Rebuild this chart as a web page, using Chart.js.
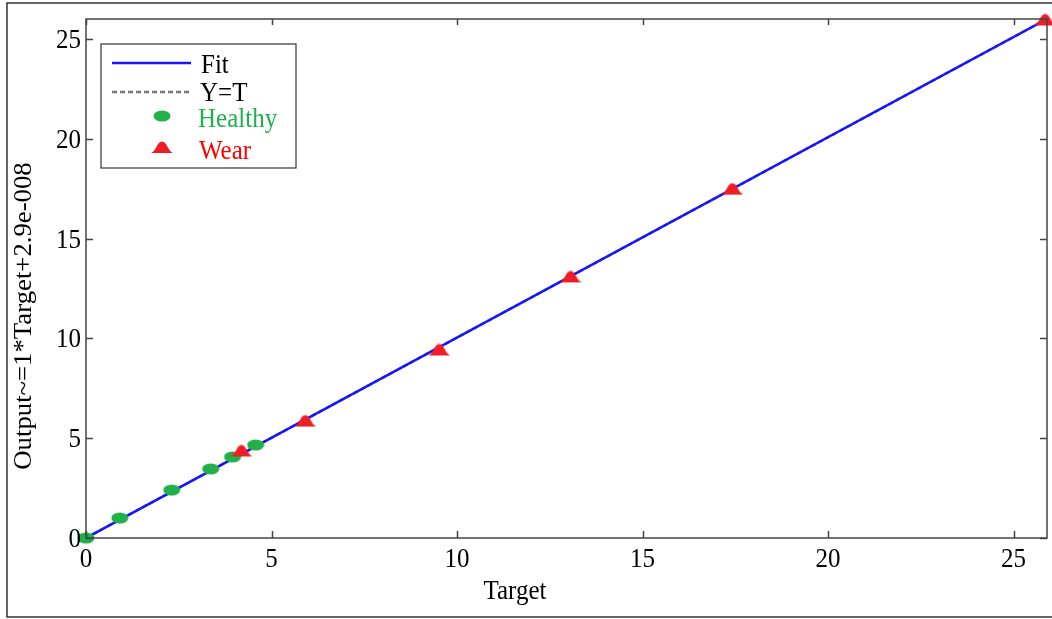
<!DOCTYPE html>
<html>
<head>
<meta charset="utf-8">
<script src="https://cdn.jsdelivr.net/npm/chart.js@4"></script>
<style>
  html, body { margin: 0; padding: 0; background: #fff; }
  #wrap { width: 1052px; height: 619px; }
</style>
</head>
<body>
<div id="wrap"><canvas id="fitChart"></canvas></div>
<script>
// values
const healthyTarget = [0, 0.91, 2.31, 3.36, 3.95, 4.57];
const healthyOutput = [0, 1.0, 2.4, 3.46, 4.06, 4.66];
const wearTarget = [4.19, 5.91, 9.52, 13.06, 17.42, 25.85];
const wearOutput = [4.36, 5.86, 9.42, 13.08, 17.48, 25.95];
const fitTarget = [0, 25.85];
const fitOutput = [0, 25.95];
const tickValues = [0, 5, 10, 15, 20, 25];

const serif = '"Liberation Serif", "Times New Roman", serif';
const GREEN = "#22b04b";
const RED = "#ef1d25";
const BLUE = "#1515ff";
const STRETCH = 1.13; // the source picture is a little taller than wide

function toPoints(xs, ys) {
    return xs.map((x, i) => ({ x: x, y: ys[i] }));
}

// marker shapes
function healthyMarker() {
    const c = document.createElement("canvas");
    c.width = 18; c.height = 12;
    const g = c.getContext("2d");
    g.fillStyle = GREEN;
    g.beginPath();
    g.ellipse(9, 6, 8.5, 5.5, 0, 0, Math.PI * 2);
    g.fill();
    return c;
}

function wearMarker() {
    const c = document.createElement("canvas");
    c.width = 22; c.height = 13;
    const g = c.getContext("2d");
    g.fillStyle = RED;
    g.beginPath();
    g.moveTo(0, 12);
    g.lineTo(22, 12);
    g.bezierCurveTo(17, 10.5, 16, 0.5, 11, 0.5);
    g.bezierCurveTo(6, 0.5, 5, 10.5, 0, 12);
    g.closePath();
    g.fill();
    return c;
}

const healthyImg = healthyMarker();
const wearImg = wearMarker();

// text drawn a bit taller than the font, like the reference
function tallText(ctx, str, x, y, align, baseline) {
    ctx.save();
    ctx.translate(x, y);
    ctx.scale(1, STRETCH);
    ctx.textAlign = align;
    ctx.textBaseline = baseline;
    ctx.fillText(str, 0, 0);
    ctx.restore();
}

const framePlugin = {
    id: "frame",
    beforeDraw(chart) {
        const ctx = chart.ctx;
        ctx.save();
        ctx.strokeStyle = "#333";
        ctx.lineWidth = 1.5;
        ctx.strokeRect(7, 3, 1060, 614);
        ctx.restore();
    },
    afterDraw(chart) {
        const ctx = chart.ctx;
        const a = chart.chartArea;
        const xs = chart.scales.x, ys = chart.scales.y;
        ctx.save();
        ctx.strokeStyle = "#444";
        ctx.lineWidth = 1.5;
        ctx.strokeRect(a.left, a.top, a.right - a.left, a.bottom - a.top);
        ctx.beginPath();
        tickValues.forEach(v => {
            const px = Math.round(xs.getPixelForValue(v)) + 0.5;
            ctx.moveTo(px, a.bottom); ctx.lineTo(px, a.bottom - 7);
            ctx.moveTo(px, a.top); ctx.lineTo(px, a.top + 6);
            const py = Math.round(ys.getPixelForValue(v)) + 0.5;
            ctx.moveTo(a.left, py); ctx.lineTo(a.left + 7, py);
            ctx.moveTo(a.right, py); ctx.lineTo(a.right - 7, py);
        });
        ctx.stroke();

        // tick labels
        ctx.fillStyle = "#000";
        ctx.font = "25px " + serif;
        xs.ticks.forEach(t => {
            tallText(ctx, String(t.value), xs.getPixelForValue(t.value), 567, "center", "alphabetic");
        });
        ys.ticks.forEach(t => {
            tallText(ctx, String(t.value), a.left - 5, ys.getPixelForValue(t.value) + 9, "right", "alphabetic");
        });

        // axis titles
        tallText(ctx, "Target", 515, 599, "center", "alphabetic");
        ctx.save();
        ctx.translate(31, 316);
        ctx.rotate(-Math.PI / 2);
        ctx.scale(1.07, 1);
        ctx.textAlign = "center";
        ctx.textBaseline = "alphabetic";
        ctx.fillText("Output~=1*Target+2.9e-008", 0, 0);
        ctx.restore();

        // legend
        ctx.fillStyle = "#fff";
        ctx.fillRect(101, 44, 195, 124);
        ctx.strokeStyle = "#333";
        ctx.lineWidth = 1.2;
        ctx.strokeRect(101, 44, 195, 124);

        ctx.lineWidth = 2.5;
        ctx.strokeStyle = BLUE;
        ctx.beginPath(); ctx.moveTo(112, 63); ctx.lineTo(191, 63); ctx.stroke();
        ctx.strokeStyle = "#777";
        ctx.setLineDash([5, 3]);
        ctx.beginPath(); ctx.moveTo(112, 92); ctx.lineTo(191, 92); ctx.stroke();
        ctx.setLineDash([]);
        ctx.drawImage(healthyImg, 162 - 9, 116 - 6);
        ctx.drawImage(wearImg, 162 - 11, 148 - 7);

        ctx.fillStyle = "#000";
        tallText(ctx, "Fit", 201, 73, "left", "alphabetic");
        tallText(ctx, "Y=T", 200, 101, "left", "alphabetic");
        ctx.fillStyle = "#1db24e";
        tallText(ctx, "Healthy", 198, 127, "left", "alphabetic");
        ctx.fillStyle = "#ff0000";
        tallText(ctx, "Wear", 199, 159, "left", "alphabetic");
        ctx.restore();
    }
};

new Chart(document.getElementById("fitChart"), {
    type: "scatter",
    data: {
        datasets: [
            {
                label: "Wear",
                data: toPoints(wearTarget, wearOutput),
                pointStyle: wearImg,
                order: 0,
                clip: false
            },
            {
                label: "Healthy",
                data: toPoints(healthyTarget, healthyOutput),
                pointStyle: healthyImg,
                order: 1,
                clip: false
            },
            {
                type: "line",
                label: "Fit",
                data: toPoints(fitTarget, fitOutput),
                borderColor: BLUE,
                borderWidth: 2.5,
                pointRadius: 0,
                order: 2
            },
            {
                type: "line",
                label: "Y=T",
                data: toPoints(fitTarget, fitOutput),
                borderColor: "#777",
                borderDash: [5, 3],
                borderWidth: 2.5,
                pointRadius: 0,
                order: 3
            }
        ]
    },
    options: {
        responsive: true,
        maintainAspectRatio: false,
        animation: false,
        layout: { padding: { left: 0, right: 1, top: 19, bottom: 0 } },
        plugins: {
            legend: { display: false },
            tooltip: { enabled: false }
        },
        scales: {
            x: {
                type: "linear",
                min: 0,
                max: 25.9,
                grid: { display: false, drawTicks: false },
                border: { display: false },
                ticks: { display: false, stepSize: 5, includeBounds: false },
                afterFit(scale) { scale.height = 81; }
            },
            y: {
                type: "linear",
                min: 0,
                max: 26,
                grid: { display: false, drawTicks: false },
                border: { display: false },
                ticks: { display: false, stepSize: 5, includeBounds: false },
                afterFit(scale) { scale.width = 86; }
            }
        }
    },
    plugins: [framePlugin]
});
</script>
</body>
</html>
